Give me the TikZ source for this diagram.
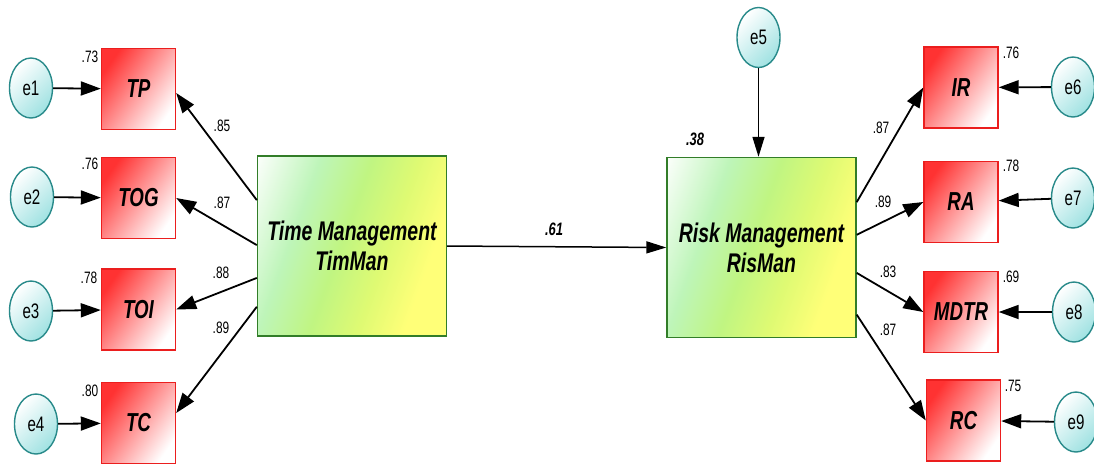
\documentclass[tikz,border=0pt]{standalone}
\usepackage{fontspec}
\setmainfont{Liberation Sans}
\newfontfamily\amosfont[FakeStretch=0.72]{Liberation Sans}
\usetikzlibrary{arrows.meta,shapes.geometric,calc}

\definecolor{obsborder}{RGB}{235,30,30}
\definecolor{obsfill}{RGB}{255,50,50}
\definecolor{latborder}{RGB}{50,125,40}
\definecolor{latmint}{RGB}{190,245,185}
\definecolor{latgreen}{RGB}{192,245,130}
\definecolor{latlime}{RGB}{222,250,115}
\definecolor{latyellow}{RGB}{255,255,120}
\definecolor{errborder}{RGB}{40,138,138}
\definecolor{errfill}{RGB}{160,226,226}

% left-to-right ramp used for the two latent variables
\pgfdeclarehorizontalshading{latshade}{100bp}{
  color(0bp)=(white); color(17bp)=(white); color(34bp)=(latmint);
  color(47bp)=(latgreen); color(59bp)=(latlime); color(71bp)=(latyellow);
  color(100bp)=(latyellow)}

\tikzset{
  obsbox/.style={rectangle, draw=obsborder, line width=1.4pt,
    minimum width=74pt, minimum height=81pt, inner sep=0pt,
    left color=obsfill, right color=white, shading angle=55,
    font=\amosfont\fontsize{26}{28}\selectfont\bfseries\itshape},
  latbox/.style={rectangle, draw=latborder, line width=1.4pt,
    minimum width=189pt, minimum height=180pt, inner sep=0pt,
    shading=latshade, shading angle=-20, align=center,
    font=\amosfont\fontsize{27}{30}\selectfont\bfseries\itshape},
  errnode/.style={ellipse, draw=errborder, line width=1.4pt,
    minimum width=43pt, minimum height=60pt, inner sep=0pt,
    left color=white, right color=errfill, shading angle=45,
    font=\amosfont\fontsize{21}{23}\selectfont},
  num/.style={inner sep=0pt, font=\amosfont\fontsize{16.5}{18}\selectfont},
  bignum/.style={inner sep=0pt, font=\amosfont\fontsize{18}{20}\selectfont\bfseries\itshape},
  path/.style={draw, line width=1.8pt, -{Triangle[length=20pt,width=14pt]}},
  thinpath/.style={draw, line width=1.5pt, -{Triangle[length=20pt,width=12pt]}}
}

\begin{document}
\begin{tikzpicture}[x=1pt,y=-1pt]
\useasboundingbox (0,0) rectangle (1094,467);
\fill[white] (0,0) rectangle (1094,467);

% latent variables
\node[latbox] (TM) at (352,246) {Time Management\\TimMan};
\node[latbox] (RM) at (761.5,247.5) {Risk Management\\RisMan};

% indicators of Time Management
\node[obsbox] (TP)  at (138.5,89)  {TP};
\node[obsbox] (TOG) at (138.5,198) {TOG};
\node[obsbox] (TOI) at (138.5,309.5) {TOI};
\node[obsbox] (TC)  at (138.5,423) {TC};

% indicators of Risk Management
\node[obsbox] (IR)   at (961,87.5)  {IR};
\node[obsbox] (RA)   at (961,202)   {RA};
\node[obsbox] (MDTR) at (961,312)   {MDTR};
\node[obsbox] (RC)   at (963.5,420.5) {RC};

% error terms
\node[errnode] (e1) at (31,88)   {e1};
\node[errnode] (e2) at (32,197)  {e2};
\node[errnode] (e3) at (31,311)  {e3};
\node[errnode] (e4) at (36,424)  {e4};
\node[errnode] (e5) at (758.5,37.5) {e5};
\node[errnode] (e6) at (1073,87)  {e6};
\node[errnode] (e7) at (1073,198) {e7};
\node[errnode] (e8) at (1074,312) {e8};
\node[errnode] (e9) at (1076,422) {e9};

% error paths
\draw[path] (e1) -- (TP);
\draw[path] (e2) -- (TOG);
\draw[path] (e3) -- (TOI);
\draw[path] (e4) -- (TC);
\draw[path] (e6) -- (IR);
\draw[path] (e7) -- (RA);
\draw[path] (e8) -- (MDTR);
\draw[path] (e9) -- (RC);
\draw[thinpath] (e5) -- (e5 |- RM.north);

% loadings of Time Management
\draw[path] ($(TM.north west)!0.247!(TM.south west)$) -- ([yshift=-4pt]TP.east);
\draw[path] ($(TM.north west)!0.495!(TM.south west)$) -- (TOG.east);
\draw[path] ($(TM.north west)!0.676!(TM.south west)$) -- (TOI.east);
\draw[path] ($(TM.north west)!0.835!(TM.south west)$) -- ([yshift=10pt]TC.east);

% loadings of Risk Management
\draw[path] ($(RM.north east)!0.25!(RM.south east)$) -- (IR.west);
\draw[path] ($(RM.north east)!0.43!(RM.south east)$) -- (RA.west);
\draw[path] ($(RM.north east)!0.64!(RM.south east)$) -- (MDTR.west);
\draw[path] ($(RM.north east)!0.87!(RM.south east)$) -- (RC.west);

% structural path
\draw[thinpath] (TM.east) -- (RM.west);

% coefficients
\node[bignum] (b61) at (554,229) {.61};
\node[bignum] (r38) at (695,139) {.38};

\node[num] (l85) at (222,126) {.85};
\node[num] (l87a) at (222,203) {.87};
\node[num] (l88) at (221,273) {.88};
\node[num] (l89a) at (221,328) {.89};

\node[num] (l87b) at (881,128) {.87};
\node[num] (l89b) at (883,202) {.89};
\node[num] (l83) at (888,272) {.83};
\node[num] (l87c) at (888,330) {.87};

% squared multiple correlations
\node[num] (r73) at (90,57)  {.73};
\node[num] (r76a) at (90,164) {.76};
\node[num] (r78a) at (89,278) {.78};
\node[num] (r80) at (90,391) {.80};

\node[num] (r76b) at (1011,53)  {.76};
\node[num] (r78b) at (1011,166) {.78};
\node[num] (r69) at (1011,277) {.69};
\node[num] (r75) at (1013,386) {.75};
\end{tikzpicture}
\end{document}
